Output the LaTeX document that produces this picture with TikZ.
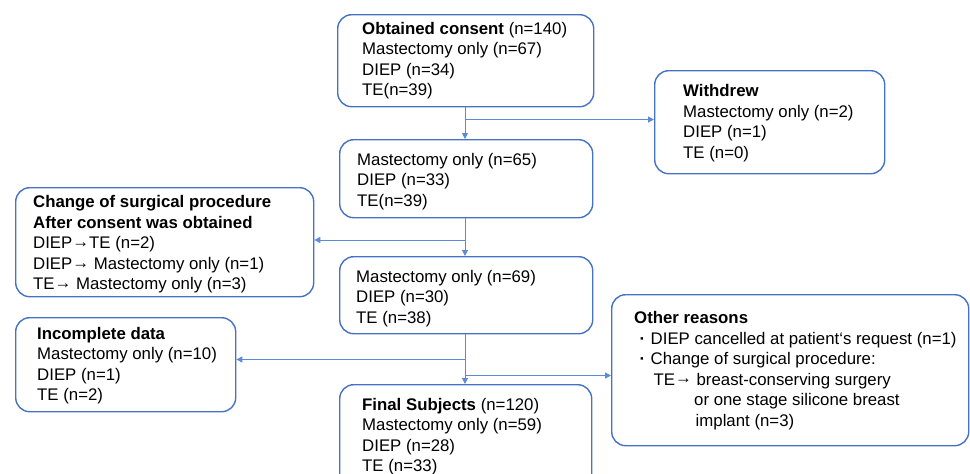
\documentclass[tikz,border=0pt]{standalone}
\usepackage{fontspec}
\setmainfont{Liberation Sans}
\usetikzlibrary{arrows.meta}
\definecolor{boxblue}{HTML}{4472C4}
\definecolor{lineblue}{HTML}{5A8AD8}
\newcommand{\rarr}{\raisebox{1.2pt}{→}}
\newcommand{\mdot}{\makebox[16.5pt][c]{\textbf{·}}}
\tikzset{
  box/.style={draw=boxblue, line width=1.4pt, rounded corners=14pt, anchor=north west, inner sep=0pt},
  txt/.style={anchor=north west, inner sep=0pt, align=left, font=\fontsize{16.8}{20.5}\selectfont},
  conn/.style={draw=lineblue, line width=1pt},
  arr/.style={conn, -{Triangle[length=6pt,width=6pt]}}
}
\begin{document}
\begin{tikzpicture}[x=1pt,y=1pt]
\useasboundingbox (0,0) rectangle (970,-474);
\clip (0,0) rectangle (970,-474);
% boxes
\node[box, minimum width=256pt, minimum height=92pt] (b1) at (337,-14) {};
\node[box, minimum width=230pt, minimum height=103pt] (wd) at (654,-70) {};
\node[box, minimum width=253pt, minimum height=78pt] (b2) at (339,-139) {};
\node[box, minimum width=298pt, minimum height=109pt] (chg) at (15,-187) {};
\node[box, minimum width=253pt, minimum height=77pt] (b3) at (339,-256) {};
\node[box, minimum width=220pt, minimum height=94pt] (inc) at (15,-317) {};
\node[box, minimum width=357pt, minimum height=151pt] (oth) at (611,-294) {};
\node[box, minimum width=252pt, minimum height=110pt] (fin) at (339,-384) {};
% texts
\node[txt] (b1t) at (362,-22) {\textbf{Obtained consent} (n=140)\\Mastectomy only (n=67)\\DIEP (n=34)\\TE(n=39)};
\node[txt] (wdt) at (683,-84.4) {\textbf{Withdrew}\\Mastectomy only (n=2)\\DIEP (n=1)\\TE (n=0)};
\node[txt] (b2t) at (357,-152.7) {Mastectomy only (n=65)\\DIEP (n=33)\\TE(n=39)};
\node[txt] (chgt) at (33,-195.4) {\textbf{Change of surgical procedure}\\\textbf{After consent was obtained}\\DIEP\rarr TE (n=2)\\DIEP\rarr\ Mastectomy only (n=1)\\TE\rarr\ Mastectomy only (n=3)};
\node[txt] (b3t) at (356,-270) {Mastectomy only (n=69)\\DIEP (n=30)\\TE (n=38)};
\node[txt] (inct) at (37,-327) {\textbf{Incomplete data}\\Mastectomy only (n=10)\\DIEP (n=1)\\TE (n=2)};
\node[txt] (otht) at (634,-311.2) {\textbf{Other reasons}\\\mdot DIEP cancelled at patient‘s request (n=1)\\\mdot Change of surgical procedure:\\\hspace*{19.5pt}TE\rarr\ breast-conserving surgery\\\hspace*{60pt}or one stage silicone breast\\\hspace*{61.5pt}implant (n=3)};
\node[txt] (fint) at (362,-397.7) {\textbf{Final Subjects} (n=120)\\Mastectomy only (n=59)\\DIEP (n=28)\\TE (n=33)};
% junctions
\coordinate (j1) at (465,-119.5);
\coordinate (j2) at (465,-240);
\coordinate (j3) at (465,-359.5);
\coordinate (j4) at (465,-375.5);
% connectors
\draw[arr] (b1.south -| j1) -- (b2.north -| j1);
\draw[arr] (j1) -- (j1 -| wd.west);
\draw[arr] (b2.south -| j2) -- (b3.north -| j2);
\draw[arr] (j2) -- (j2 -| chg.east);
\draw[arr] (b3.south -| j3) -- (fin.north -| j3);
\draw[arr] (j3) -- (j3 -| inc.east);
\draw[arr] (j4) -- (j4 -| oth.west);
\end{tikzpicture}
\end{document}
